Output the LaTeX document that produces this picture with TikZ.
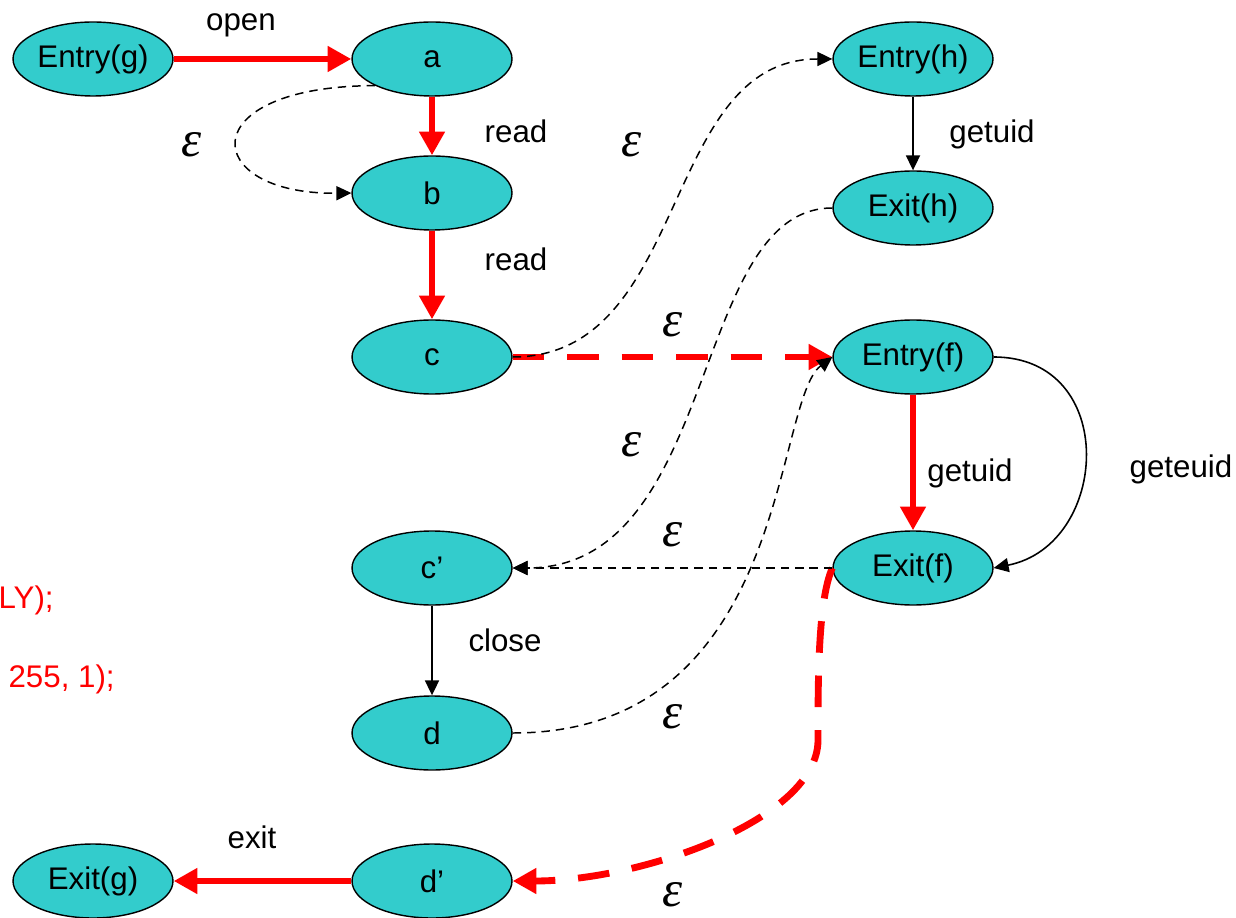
\documentclass[tikz,border=0pt]{standalone}
\usepackage{fontspec}
\setmainfont{Liberation Sans}
\newfontfamily\epsfont{Liberation Serif}
\usetikzlibrary{shapes.geometric,arrows.meta}

\definecolor{nodefill}{RGB}{51,204,204}
\definecolor{callred}{RGB}{255,0,0}

\begin{document}
\begin{tikzpicture}[x=0.02cm,y=-0.02cm,
  state/.style={ellipse,draw=black,line width=0.8pt,fill=nodefill,
    minimum width=3.2cm,minimum height=1.48cm,inner sep=0pt,
    font=\fontsize{17.8}{20}\selectfont},
  lbl/.style={anchor=base,font=\fontsize{17.8}{20}\selectfont,inner sep=0pt},
  eps/.style={font=\epsfont\itshape\fontsize{29}{30}\selectfont,inner sep=0pt},
  redpath/.style={draw=callred,line width=3.9pt,-{Triangle[length=13.5pt,width=14pt]}},
  reddash/.style={redpath,dash pattern=on 18pt off 13pt},
  epsedge/.style={draw=black,line width=0.85pt,dash pattern=on 4.8pt off 3.4pt,
    -{Triangle[length=8.5pt,width=8pt]}},
  plainedge/.style={draw=black,line width=0.9pt,-{Triangle[length=8.5pt,width=8pt]}},
]
\useasboundingbox (0,0) rectangle (1236,918);

% call graph nodes
\node[state] (eg) at (93,59)  {Entry(g)};
\node[state] (a)  at (432,59) {a};
\node[state] (b)  at (432,193) {b};
\node[state] (c)  at (432,357) {c};
\node[state] (eh) at (913,59) {Entry(h)};
\node[state] (xh) at (913,208) {Exit(h)};
\node[state] (ef) at (913,357) {Entry(f)};
\node[state] (xf) at (913,568) {Exit(f)};
\node[state] (cp) at (432,568) {c’};
\node[state] (d)  at (432,733) {d};
\node[state] (dp) at (432,881) {d’};
\node[state] (xg) at (93,881) {Exit(g)};

% highlighted path
\draw[redpath] (eg) -- (a);
\draw[redpath] (a) -- (b);
\draw[redpath] (b) -- (c);
\draw[redpath] (ef) -- (xf);
\draw[redpath] (dp) -- (xg);
\draw[reddash] (c) -- (ef);
\coordinate (bend) at (818,740);
\draw[reddash] (xf.west) .. controls (818,600) and (818,680) .. (bend)
  .. controls (818,820) and (640,881) .. (dp.east);

% ordinary edges
\draw[plainedge] (eh) -- (xh);
\draw[plainedge] (cp) -- (d);
\draw[plainedge] (ef.east) .. controls (1120,357) and (1110,545) .. (xf.east);

% epsilon edges
\draw[epsedge] (a.south west) .. controls (190,86) and (200,195) .. (b.west);
\draw[epsedge] (c.east) .. controls (690,357) and (660,59) .. (eh.west);
\draw[epsedge] (xh.west) .. controls (690,208) and (720,568) .. (cp.east);
\draw[epsedge] (d.east) .. controls (790,733) and (773,402) .. (ef.west);
\draw[epsedge] (xf.west) -- (cp.east);

% edge labels
\node[lbl] (lopen) at (241,31) {open};
\node[lbl] (lread1) at (516,143) {read};
\node[lbl] (lread2) at (516,271) {read};
\node[lbl] (lgetuidh) at (992,143) {getuid};
\node[lbl] (lgetuidf) at (970,481) {getuid};
\node[lbl] (lgeteuid) at (1181,477) {geteuid};
\node[lbl] (lclose) at (505,651) {close};
\node[lbl] (lexit) at (252,848) {exit};

% epsilon labels
\node[eps] (e1) at (192,145) {ε};
\node[eps] (e2) at (632,145) {ε};
\node[eps] (e3) at (673,325) {ε};
\node[eps] (e4) at (632,445) {ε};
\node[eps] (e5) at (673,535) {ε};
\node[eps] (e6) at (673,717) {ε};
\node[eps] (e7) at (673,895) {ε};

% source fragments at the left edge
\node[lbl,anchor=base east,text=callred] (src1) at (54,608) {LY);};
\node[lbl,anchor=base east,text=callred] (src2) at (115,687) {255, 1);};
\end{tikzpicture}
\end{document}
